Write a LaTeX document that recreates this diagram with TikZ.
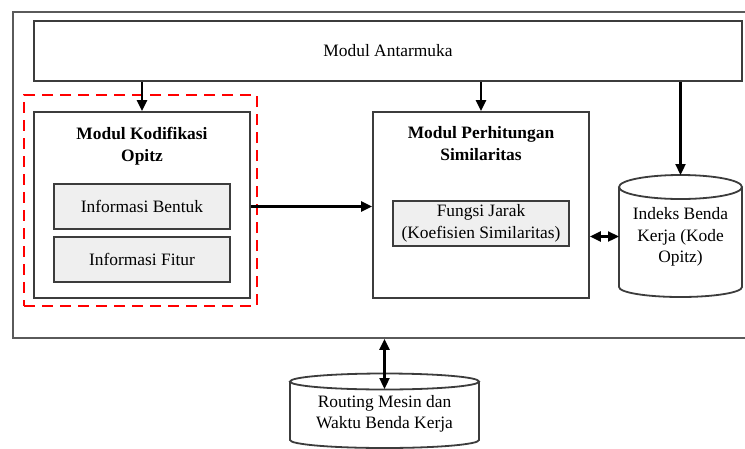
\documentclass[tikz,border=0pt]{standalone}
\usepackage{fontspec}
\setmainfont{Liberation Serif}
\usetikzlibrary{arrows.meta}
\definecolor{edgegray}{HTML}{3C3C3C}
\definecolor{framegray}{HTML}{5A5A5A}
\definecolor{subfill}{HTML}{EFEFEF}
\begin{document}
\begin{tikzpicture}[x=1pt,y=-1pt,
  font=\fontsize{17.4}{21.5}\selectfont,
  frame/.style={draw=framegray, line width=1.9pt, inner sep=0pt, anchor=north west},
  box/.style={draw=edgegray, line width=1.8pt, fill=white, inner sep=0pt, align=center},
  modbox/.style={box, minimum width=216pt, minimum height=186pt},
  subbox/.style={box, fill=subfill, minimum width=176pt, minimum height=45pt},
  title/.style={inner sep=0pt, align=center, font=\fontsize{17.4}{22}\selectfont\bfseries},
  cyl/.style={draw=edgegray, line width=1.8pt, fill=white},
  tip/.tip={Triangle[length=11pt,width=10pt]},
  arr/.style={line width=2.3pt, -tip},
  darr/.style={line width=2.3pt, tip-tip},
  group/.style={draw=red, line width=2.2pt, dash pattern=on 11pt off 7pt, inner sep=0pt}
]
\useasboundingbox (0,0) rectangle (745,448);
\clip (0,0) rectangle (745,448);

% system frame (its right side runs past the page edge)
\node[frame, minimum width=760pt, minimum height=326pt] (sys) at (12,11) {};

% interface module
\node[box, minimum width=708pt, minimum height=60pt] (ui) at (388,51) {Modul Antarmuka};

% coding module and its dashed group
\node[group, minimum width=233pt, minimum height=211pt] (grp) at (140.5,200.5) {};
\node[modbox] (kod) at (142,205) {};
\node[title] (kodt) at (142,146) {Modul Kodifikasi\\Opitz};
\node[subbox] (bentuk) at (142,206.5) {Informasi Bentuk};
\node[subbox] (fitur) at (142,259.5) {Informasi Fitur};

% similarity module
\node[modbox] (per) at (481,205) {};
\node[title] (pert) at (481,144) {Modul Perhitungan\\Similaritas};
\node[subbox] (jarak) at (481,223.5) {Fungsi Jarak\\(Koefisien Similaritas)};

% workpiece index database
\draw[cyl] (619,187) -- (619,287) arc[start angle=180, end angle=0, x radius=61.5, y radius=10] -- (742,187);
\draw[cyl] (680.5,187) ellipse[x radius=61.5, y radius=12];
\node[inner sep=0pt, minimum width=123pt, minimum height=122pt, align=center] (idx) at (680.5,237) {Indeks Benda\\Kerja (Kode\\Opitz)};

% routing database
\draw[cyl] (290,381.5) -- (290,440) arc[start angle=180, end angle=0, x radius=94.5, y radius=8] -- (479,381.5);
\draw[cyl] (384.5,381.5) ellipse[x radius=94.5, y radius=8];
\node[inner sep=0pt, align=center] (rt) at (384.5,414) {Routing Mesin dan\\Waktu Benda Kerja};
\coordinate (rtop) at (384.5,389);

% connectors
\draw[arr] (ui.south -| kod) -- (kod.north);
\draw[arr] (ui.south -| per) -- (per.north);
\draw[arr] (ui.south -| idx) -- (680.5,175);
\draw[arr] (kod.east |- bentuk) -- (per.west |- bentuk);
\draw[darr] (per.east |- 0,236.5) -- (619,236.5);
\draw[darr] (sys.south -| rtop) -- (rtop);
\end{tikzpicture}
\end{document}
